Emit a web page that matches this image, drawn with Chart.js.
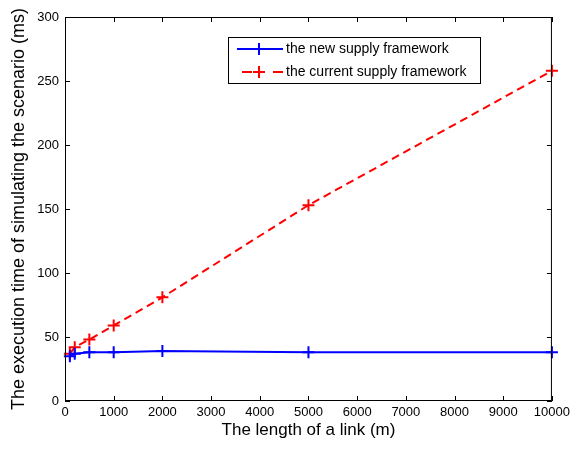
<!DOCTYPE html>
<html>
<head>
<meta charset="utf-8">
<script src="https://cdn.jsdelivr.net/npm/chart.js@4/dist/chart.umd.min.js"></script>
<style>
  html, body { margin: 0; padding: 0; background: #fff; }
  #wrap { width: 574px; height: 450px; }
</style>
</head>
<body>
<div id="wrap"><canvas id="runtime"></canvas></div>
<script>
// link lengths (m) and execution times (ms)
const linkLengths = [100, 200, 500, 1000, 2000, 5000, 10000];
const newFramework = [35, 37, 38, 38, 39, 38, 38];
const currentFramework = [37, 42, 48, 59, 81, 153, 258];
const xTicks = [0, 1000, 2000, 3000, 4000, 5000, 6000, 7000, 8000, 9000, 10000];
const yTicks = [0, 50, 100, 150, 200, 250, 300];

const FONT = 'Liberation Sans, Arial, sans-serif';

// matlab style box with inward ticks
const boxTicks = {
    id: 'boxTicks',
    afterDraw(chart) {
        const ctx = chart.ctx, a = chart.chartArea;
        const xs = chart.scales.x, ys = chart.scales.y;
        ctx.save();
        ctx.strokeStyle = '#000';
        ctx.lineWidth = 1;
        ctx.strokeRect(a.left + 0.5, a.top + 0.5, a.right - a.left - 1, a.bottom - a.top - 1);
        ctx.beginPath();
        xTicks.forEach(v => {
            const px = Math.round(xs.getPixelForValue(v)) + 0.5;
            ctx.moveTo(px, a.bottom); ctx.lineTo(px, a.bottom - 5);
            ctx.moveTo(px, a.top); ctx.lineTo(px, a.top + 5);
        });
        yTicks.forEach(v => {
            const py = Math.round(ys.getPixelForValue(v)) + 0.5;
            ctx.moveTo(a.left, py); ctx.lineTo(a.left + 5, py);
            ctx.moveTo(a.right, py); ctx.lineTo(a.right - 5, py);
        });
        ctx.stroke();
        ctx.restore();
    }
};

// legend box inside the plot
const boxLegend = {
    id: 'boxLegend',
    afterDraw(chart) {
        const ctx = chart.ctx;
        const x0 = 228, y0 = 37, w = 252, h = 46;
        ctx.save();
        ctx.fillStyle = '#fff';
        ctx.fillRect(x0, y0, w, h);
        ctx.strokeStyle = '#000';
        ctx.lineWidth = 1;
        ctx.strokeRect(x0 + 0.5, y0 + 0.5, w, h);
        chart.data.datasets.forEach((ds, i) => {
            const y = y0 + 12 + i * 23;
            ctx.strokeStyle = ds.borderColor;
            ctx.lineWidth = 2;
            ctx.setLineDash(ds.borderDash || []);
            ctx.beginPath();
            if (ds.borderDash) {
                ctx.moveTo(x0 + 14, y); ctx.lineTo(x0 + 24, y);
                ctx.moveTo(x0 + 45, y); ctx.lineTo(x0 + 55, y);
            } else {
                ctx.moveTo(x0 + 9, y); ctx.lineTo(x0 + 55, y);
            }
            ctx.setLineDash([]);
            ctx.stroke();
            ctx.beginPath();
            ctx.moveTo(x0 + 31, y - 6); ctx.lineTo(x0 + 31, y + 6);
            ctx.moveTo(x0 + 25, y); ctx.lineTo(x0 + 37, y);
            ctx.stroke();
            ctx.fillStyle = '#000';
            ctx.font = '14px ' + FONT;
            ctx.textBaseline = 'middle';
            ctx.fillText(ds.label, x0 + 58, y);
        });
        ctx.restore();
    }
};

new Chart(document.getElementById('runtime'), {
    type: 'line',
    data: {
        datasets: [{
            label: 'the new supply framework',
            data: linkLengths.map((x, i) => ({x: x, y: newFramework[i]})),
            borderColor: '#0000ff',
            backgroundColor: '#0000ff',
            borderWidth: 2,
            pointStyle: 'cross',
            pointRadius: 6,
            pointBorderWidth: 2,
            tension: 0,
            clip: false
        }, {
            label: 'the current supply framework',
            data: linkLengths.map((x, i) => ({x: x, y: currentFramework[i]})),
            borderColor: '#ff0000',
            backgroundColor: '#ff0000',
            borderWidth: 2,
            borderDash: [8, 5],
            pointStyle: 'cross',
            pointRadius: 6,
            pointBorderWidth: 2,
            tension: 0,
            clip: false
        }]
    },
    options: {
        responsive: true,
        maintainAspectRatio: false,
        animation: false,
        layout: { padding: { top: 17, right: 21, left: 0, bottom: 0 } },
        plugins: { legend: { display: false }, tooltip: { enabled: false } },
        scales: {
            x: {
                type: 'linear',
                min: 0, max: 10000,
                afterBuildTicks: s => { s.ticks = xTicks.map(v => ({value: v})); },
                afterFit: s => { s.height = 49; },
                grid: { display: false, drawTicks: false, tickLength: 0 },
                border: { display: false },
                ticks: { color: '#000', font: { family: FONT, size: 13 }, padding: 4, maxRotation: 0, autoSkip: false, callback: v => String(v) },
                title: { display: true, text: 'The length of a link (m)', color: '#000', font: { family: FONT, size: 17 }, padding: { top: 2, bottom: 9 } }
            },
            y: {
                min: 0, max: 300,
                afterBuildTicks: s => { s.ticks = yTicks.map(v => ({value: v})); },
                afterFit: s => { s.width = 65; },
                grid: { display: false, drawTicks: false, tickLength: 0 },
                border: { display: false },
                ticks: { color: '#000', font: { family: FONT, size: 13 }, padding: 6, callback: v => String(v) },
                title: { display: true, text: 'The execution time of simulating the scenario (ms)', color: '#000', font: { family: FONT, size: 18 }, padding: { top: 8, bottom: 4 } }
            }
        }
    },
    plugins: [boxTicks, boxLegend]
});
</script>
</body>
</html>
